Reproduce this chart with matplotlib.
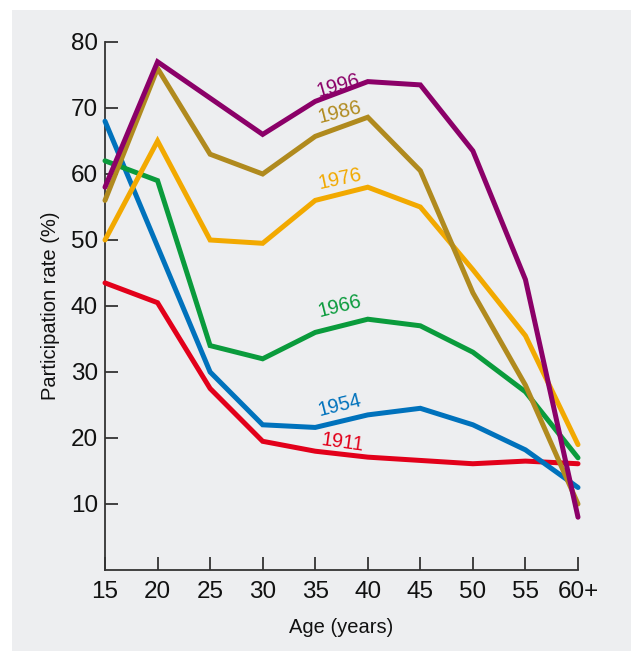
import matplotlib
matplotlib.use("Agg")
import matplotlib.pyplot as plt
from matplotlib.patches import Rectangle

ages = [15, 20, 25, 30, 35, 40, 45, 50, 55, 60]
age_labels = ["15", "20", "25", "30", "35", "40", "45", "50", "55", "60+"]
y_ticks = [10, 20, 30, 40, 50, 60, 70, 80]

rate_1996 = [58, 77, 71.5, 66, 71, 74, 73.5, 63.5, 44, 8]
rate_1986 = [56, 76, 63, 60, 65.7, 68.6, 60.5, 42, 28, 10]
rate_1976 = [50, 65, 50, 49.5, 56, 58, 55, 45.5, 35.5, 19]
rate_1966 = [62, 59, 34, 32, 36, 38, 37, 33, 27, 17]
rate_1954 = [68, 49, 30, 22, 21.6, 23.5, 24.5, 22, 18.2, 12.5]
rate_1911 = [43.5, 40.5, 27.5, 19.5, 18, 17.1, 16.6, 16.1, 16.5, 16.1]

series = [
    ("1911", rate_1911, "#e2001a", (37.6, 19.3), -8),
    ("1954", rate_1954, "#0072bc", (37.3, 24.9), 14),
    ("1966", rate_1966, "#0a9b3c", (37.3, 40.0), 14),
    ("1976", rate_1976, "#f2a900", (37.4, 59.3), 12),
    ("1986", rate_1986, "#b08a1e", (37.3, 69.4), 14),
    ("1996", rate_1996, "#8b0068", (37.2, 73.4), 16),
]

plt.rcParams['font.family'] = ['Liberation Sans', 'DejaVu Sans']

fig = plt.figure(figsize=(6.31, 6.51), dpi=100)
fig.patch.set_facecolor("white")
fig.patches.append(Rectangle((12/631, 0), 1 - 12/631, 1 - 10/651,
                             transform=fig.transFigure, facecolor="#edeef0",
                             edgecolor="none", zorder=-10))

ax = fig.add_axes([105/631, 1 - 570/651, (578 - 105)/631, (570 - 42)/651])
ax.set_facecolor("none")

for name, vals, col, (tx, ty), rot in series:
    ax.plot(ages, vals, color=col, lw=3.6, solid_capstyle="round",
            solid_joinstyle="miter", clip_on=False, zorder=3)
    ax.text(tx, ty, name, color=col, fontsize=14.3, rotation=rot,
            ha="center", va="center", rotation_mode="anchor")

ax.set_xlim(15, 60)
ax.set_ylim(0, 80)
ax.set_xticks(ages)
ax.set_xticklabels(age_labels)
ax.set_yticks(y_ticks)
for s in ["top", "right"]:
    ax.spines[s].set_visible(False)
for s in ["left", "bottom"]:
    ax.spines[s].set_color("#333333")
    ax.spines[s].set_linewidth(1.3)
ax.tick_params(axis="both", direction="in", length=9.5, width=1.3,
               color="#333333", labelsize=17.5, labelcolor="#111111")
ax.tick_params(axis="x", pad=8)
ax.tick_params(axis="y", pad=5)

ax.set_xlabel("Age (years)", fontsize=14.5, labelpad=11, color="#111111")
ax.set_ylabel("Participation rate (%)", fontsize=14.5, labelpad=8, color="#111111")

fig.savefig("out.png", dpi=100)
